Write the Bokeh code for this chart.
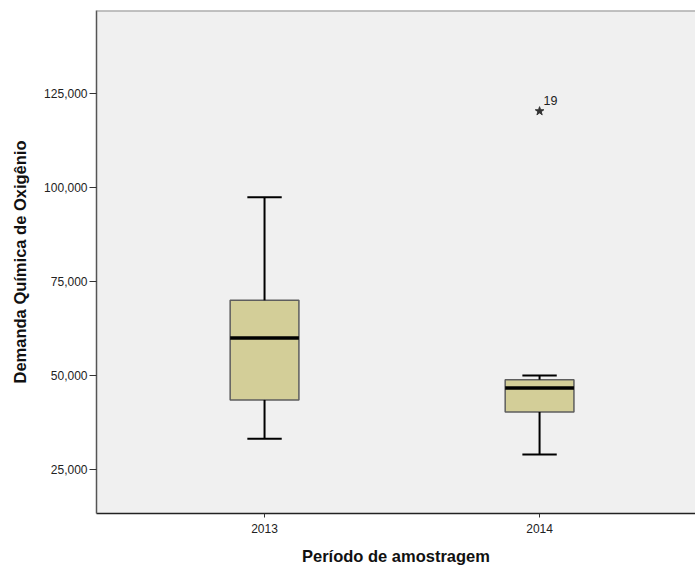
from bokeh.plotting import figure
from bokeh.models import ColumnDataSource, NumeralTickFormatter, FixedTicker, Range1d, Span, Label
from bokeh.embed import file_html
from bokeh.resources import INLINE

# Box-plot summary of chemical oxygen demand per sampling year
years = [2013, 2014]
year_labels = ["2013", "2014"]
whisker_low = [33200, 29000]
q1 = [43500, 40300]
median = [60000, 46700]
q3 = [70000, 48900]
whisker_high = [97400, 50000]

# Extreme value flagged by case number
outlier_year = [2014]
outlier_value = [120300]
outlier_case = ["19"]

y_ticks = [25000, 50000, 75000, 100000, 125000]

FONT = "Liberation Sans"
BOX_W = 0.25
CAP_W = 0.125

p = figure(width=695, height=567, output_backend="svg", toolbar_location=None,
           x_range=Range1d(2012.389, 2014.567), y_range=Range1d(13300, 147070),
           min_border_left=96, min_border_right=0, min_border_top=10, min_border_bottom=54)

p.background_fill_color = "#f0f0f0"
p.border_fill_color = "white"
p.outline_line_color = None
p.xgrid.visible = False
p.ygrid.visible = False

# top edge of the plot frame
p.add_layout(Span(location=147070, dimension="width", line_color="#8c8c8c", line_width=2))

# boxes
box_src = ColumnDataSource(dict(x=years, q1=q1, q3=q3))
p.vbar(x="x", width=BOX_W, bottom="q1", top="q3", source=box_src,
       fill_color="#d3ce98", line_color="#5e5e5e", line_width=1.5)

# whiskers
p.segment(x0=years, x1=years, y0=q3, y1=whisker_high, line_color="black", line_width=2)
p.segment(x0=years, x1=years, y0=whisker_low, y1=q1, line_color="black", line_width=2)
cap_left = [x - CAP_W / 2 for x in years]
cap_right = [x + CAP_W / 2 for x in years]
p.segment(x0=cap_left, x1=cap_right, y0=whisker_high, y1=whisker_high, line_color="black", line_width=2)
p.segment(x0=cap_left, x1=cap_right, y0=whisker_low, y1=whisker_low, line_color="black", line_width=2)

# medians
med_left = [x - BOX_W / 2 for x in years]
med_right = [x + BOX_W / 2 for x in years]
p.segment(x0=med_left, x1=med_right, y0=median, y1=median, line_color="black", line_width=3.5)

# extreme value marker and its case label
p.scatter(x=outlier_year, y=outlier_value, marker="star", size=9,
          fill_color="#333333", line_color="#333333")
for xv, yv, txt in zip(outlier_year, outlier_value, outlier_case):
    p.add_layout(Label(x=xv, y=yv, text=txt, x_offset=4, y_offset=6,
                       text_font=FONT, text_font_size="12.5px", text_color="#222222"))

# axes
p.xaxis.ticker = FixedTicker(ticks=years)
p.xaxis.major_label_overrides = {y: s for y, s in zip(years, year_labels)}
p.xaxis.axis_label = "Período de amostragem"
p.xaxis.axis_line_color = "#222222"
p.xaxis.axis_line_width = 1.5
p.xaxis.major_tick_out = 4
p.xaxis.major_tick_in = 0
p.xaxis.major_tick_line_color = "#333333"
p.xaxis.minor_tick_line_color = None
p.xaxis.major_label_standoff = 6
p.xaxis.axis_label_standoff = 11

p.yaxis.ticker = FixedTicker(ticks=y_ticks)
p.yaxis.formatter = NumeralTickFormatter(format="0,0")
p.yaxis.axis_label = "Demanda Química de Oxigênio"
p.yaxis.axis_line_color = "#555555"
p.yaxis.axis_line_width = 1.5
p.yaxis.major_tick_out = 7
p.yaxis.major_tick_in = 0
p.yaxis.major_tick_line_color = "#333333"
p.yaxis.minor_tick_line_color = None
p.yaxis.major_label_standoff = 2
p.yaxis.axis_label_standoff = 12

for ax in (p.xaxis, p.yaxis):
    ax.major_label_text_font = FONT
    ax.major_label_text_font_size = "12px"
    ax.major_label_text_color = "#222222"
    ax.axis_label_text_font = FONT
    ax.axis_label_text_font_size = "16.5px"
    ax.axis_label_text_font_style = "bold"
    ax.axis_label_text_color = "#111111"

open("out.html", "w").write(file_html(p, INLINE))
